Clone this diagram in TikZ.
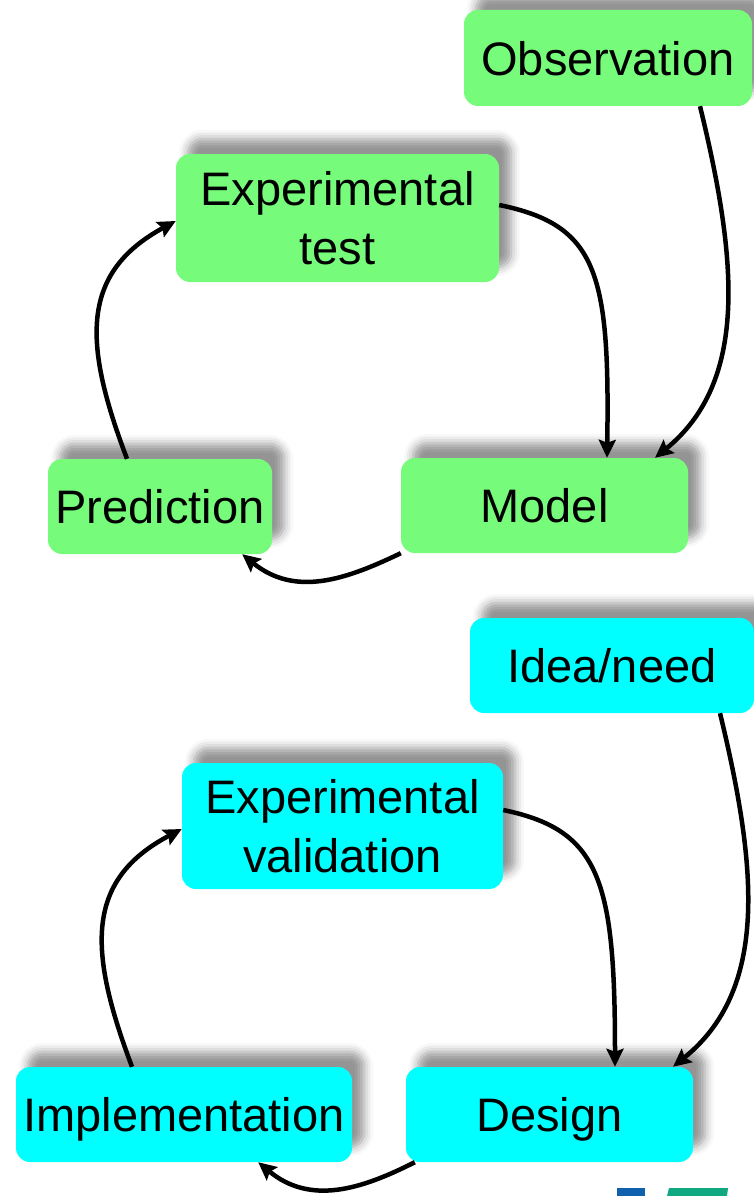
\documentclass[tikz,border=0pt]{standalone}
\usepackage{fontspec}
\setmainfont{Liberation Sans}
\usetikzlibrary{arrows.meta,shadows.blur}
\definecolor{boxgreen}{RGB}{119,251,123}
\definecolor{boxcyan}{RGB}{0,255,255}
\definecolor{logoblue}{RGB}{16,96,176}
\definecolor{logogreen}{RGB}{16,168,128}

\begin{document}
\begin{tikzpicture}[x=1pt, y=-1pt,
  stage/.style={rounded corners=14pt, inner sep=0pt, align=center, text depth=0pt,
    font=\fontsize{47}{59}\selectfont,
    blur shadow={shadow xshift=12pt, shadow yshift=15pt, shadow blur radius=9pt, shadow opacity=42}},
  science/.style={stage, fill=boxgreen},
  engineer/.style={stage, fill=boxcyan},
  flow/.style={line width=4.5pt, -{Stealth[length=18pt, width=17pt, inset=3pt]}}]

  \newcommand\BoxH{95pt}

  \useasboundingbox (0,0) rectangle (754,1196);

  %% scientific method
  \node[science, minimum width=288pt, minimum height=96pt] (obs) at (608,58) {Observation};
  \node[science, minimum width=323pt, minimum height=128pt] (exptest) at (337.5,218) {Experimental\\test};
  \node[science, minimum width=224pt, minimum height=\BoxH] (pred) at (160,506.5) {Prediction};
  \node[science, minimum width=287pt, minimum height=\BoxH] (model) at (544.5,505.5) {Model};

  \draw[flow] ([xshift=92pt]obs.south) .. controls (738,262) and (748,382) .. ([xshift=110.5pt]model.north); %% obs->model
  \draw[flow] ([yshift=13pt]exptest.east) .. controls (597,225) and (610,272) .. ([xshift=62.5pt]model.north); %% test->model
  \draw[flow] (model.south west) .. controls (345,580) and (295,597) .. ([xshift=-30pt]pred.south east); %% model->pred
  \draw[flow] ([xshift=-33pt]pred.north) .. controls (83,343) and (80,273) .. ([yshift=-3pt]exptest.west); %% pred->test

  %% engineering method
  \node[engineer, minimum width=284pt, minimum height=\BoxH] (idea) at (612,665.5) {Idea/need};
  \node[engineer, minimum width=321pt, minimum height=126pt] (expval) at (342.5,826) {Experimental\\validation};
  \node[engineer, minimum width=336pt, minimum height=\BoxH] (impl) at (184,1114.5) {Implementation};
  \node[engineer, minimum width=287pt, minimum height=\BoxH] (design) at (549.5,1114.5) {Design};

  \draw[flow] ([xshift=108pt]idea.south) .. controls (758,870) and (768,990) .. ([xshift=123.5pt]design.north); %% idea->design
  \draw[flow] ([yshift=16pt]expval.east) .. controls (600,830) and (615,880) .. ([xshift=65.5pt]design.north); %% valid->design
  \draw[flow] ([xshift=9pt]design.south west) .. controls (360,1190) and (310,1205) .. ([xshift=-94pt]impl.south east); %% design->impl
  \draw[flow] ([xshift=-52pt]impl.north) .. controls (88,950) and (85,880) .. ([yshift=-3pt]expval.west); %% impl->valid

  %% logo edge
  \fill[logoblue] (617,1188) rectangle (645,1196);
  \fill[logogreen] (669,1188) -- (728,1188) -- (727,1196) -- (667,1196) -- cycle;
\end{tikzpicture}
\end{document}
